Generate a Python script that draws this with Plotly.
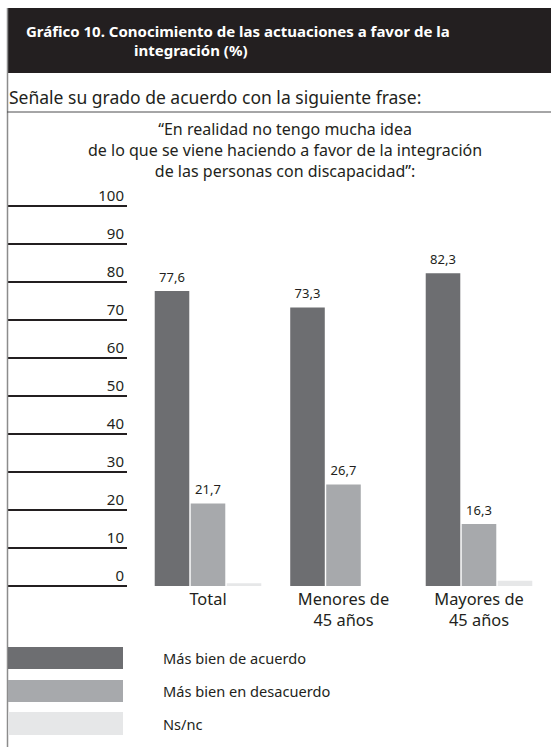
import plotly.graph_objects as go

W, H = 551, 747

categories = ["Total", "Menores de<br>45 años", "Mayores de<br>45 años"]
series_names = ["Más bien de acuerdo", "Más bien en desacuerdo", "Ns/nc"]
acuerdo = [77.6, 73.3, 82.3]
desacuerdo = [21.7, 26.7, 16.3]
nsnc = [0.7, 0.0, 1.4]
y_ticks = [0, 10, 20, 30, 40, 50, 60, 70, 80, 90, 100]
colors = ["#6d6e71", "#a7a9ac", "#e6e7e8"]

title_line1 = "Gráfico 10. Conocimiento de las actuaciones a favor de la"
title_line2 = "integración (%)"
subtitle = "Señale su grado de acuerdo con la siguiente frase:"
quote_lines = ["“En realidad no tengo mucha idea",
               "de lo que se viene haciendo a favor de la integración",
               "de las personas con discapacidad”:"]

FONT = "Noto Sans"
TXT = "#231f20"
GAP = 0.203
PAD = 0.3  # small range padding so the 0 and 100 rules are drawn


def px(p):
    return p / W


def py(p):
    return 1 - p / H


PX_PER_UNIT = (586 - 206) / 100
ydom = [py(586 + PAD * PX_PER_UNIT), py(206 - PAD * PX_PER_UNIT)]
yrange = [-PAD, 100 + PAD]

fig = go.Figure()
series = [acuerdo, desacuerdo, nsnc]
for i, (name, vals) in enumerate(zip(series_names, series)):
    fig.add_trace(go.Bar(
        x=categories, y=vals, name=name,
        marker=dict(color=colors[i], line=dict(width=0)),
        cliponaxis=False, showlegend=False, hoverinfo="skip",
        xaxis="x", yaxis="y",
    ))
# value labels, grouped the same way as the bars
for i, (name, vals) in enumerate(zip(series_names, series)):
    fig.add_trace(go.Scatter(
        x=categories, y=vals, name=name, mode="markers+text",
        marker=dict(size=8, opacity=0),
        texttemplate="%{y:.1f}" if i < 2 else "",
        textposition="top center",
        textfont=dict(family=FONT, size=13, color=TXT),
        cliponaxis=False, showlegend=False, hoverinfo="skip",
        xaxis="x", yaxis="y",
    ))

# invisible trace for the ruler axis
fig.add_trace(go.Scatter(x=[0], y=[0], mode="markers", marker=dict(opacity=0),
                         xaxis="x2", yaxis="y2", showlegend=False, hoverinfo="skip"))

shapes = [
    dict(type="rect", xref="paper", yref="paper", x0=px(7), x1=px(551), y0=py(73), y1=py(8),
         fillcolor="#231f20", line=dict(width=0), layer="below"),
    dict(type="line", xref="paper", yref="paper", x0=px(7.5), x1=px(7.5), y0=py(747), y1=py(8),
         line=dict(color="#8c8c8c", width=1.5)),
    dict(type="line", xref="paper", yref="paper", x0=px(7), x1=px(551), y0=py(112), y1=py(112),
         line=dict(color="#4d4d4f", width=1)),
]
leg_y = [(647, 669), (680, 702), (712, 735)]
annotations = [
    dict(text="<b>" + title_line1 + "</b>", x=px(24), y=py(31), xref="paper", yref="paper",
         xanchor="left", yanchor="middle", showarrow=False,
         font=dict(family=FONT, size=15, color="white")),
    dict(text="<b>" + title_line2 + "</b>", x=px(132), y=py(50), xref="paper", yref="paper",
         xanchor="left", yanchor="middle", showarrow=False,
         font=dict(family=FONT, size=15, color="white")),
    dict(text=subtitle, x=px(7), y=py(97), xref="paper", yref="paper",
         xanchor="left", yanchor="middle", showarrow=False,
         font=dict(family=FONT, size=17.5, color=TXT)),
    dict(text="<br>".join(quote_lines), x=px(285), y=py(150), xref="paper", yref="paper",
         xanchor="center", yanchor="middle", align="center", showarrow=False,
         font=dict(family=FONT, size=16, color=TXT)),
]
for i, name in enumerate(series_names):
    y0, y1 = leg_y[i]
    shapes.append(dict(type="rect", xref="paper", yref="paper", x0=px(8), x1=px(123),
                       y0=py(y1), y1=py(y0), fillcolor=colors[i], line=dict(width=0)))
    annotations.append(dict(text=name, x=px(161), y=py((y0 + y1) / 2), xref="paper", yref="paper",
                            xanchor="left", yanchor="middle", showarrow=False,
                            font=dict(family=FONT, size=14.6, color=TXT)))

fig.update_layout(
    width=W, height=H,
    margin=dict(l=0, r=0, t=0, b=0, pad=0, autoexpand=False),
    paper_bgcolor="white", plot_bgcolor="rgba(0,0,0,0)",
    separators=",.",
    barmode="group", bargap=GAP, bargroupgap=0.04,
    scattermode="group", scattergap=GAP,
    font=dict(family=FONT, color=TXT),
    hovermode=False,
    xaxis=dict(domain=[px(140.25), px(546.75)], range=[-0.5, 2.5], anchor="y",
               automargin=False, showgrid=False, zeroline=False, showline=False, ticks="",
               tickfont=dict(family=FONT, size=16.4, color=TXT)),
    yaxis=dict(domain=ydom, range=yrange, anchor="x", visible=False, showgrid=False,
               zeroline=False, automargin=False),
    xaxis2=dict(domain=[px(8), px(127)], range=[0, 1], anchor="y2", visible=False,
                automargin=False),
    yaxis2=dict(domain=ydom, range=yrange, anchor="x2", side="right", automargin=False,
                tickvals=y_ticks, ticklabelposition="inside top", ticklabeloverflow="allow",
                showgrid=True, gridcolor="#231f20", gridwidth=1.2, zeroline=False,
                showline=False, ticks="", tickfont=dict(family=FONT, size=15, color=TXT)),
    shapes=shapes, annotations=annotations,
)

fig.write_html(
    "out.html",
    config={"displayModeBar": False, "staticPlot": True},
    post_script="document.body.style.margin='0';document.body.style.overflow='hidden';",
)
